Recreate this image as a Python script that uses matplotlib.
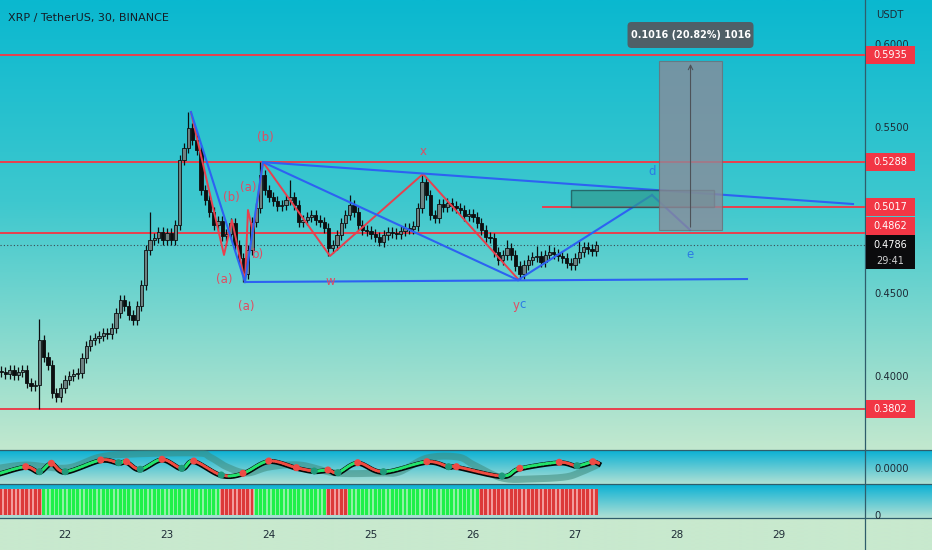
import numpy as np
import matplotlib
matplotlib.use("Agg")
import matplotlib.pyplot as plt
from matplotlib.patches import Rectangle, FancyBboxPatch
from matplotlib.collections import LineCollection

plt.rcParams['font.family'] = ['DejaVu Sans']

# ------------------------------------------------------------------ data
title = "XRP / TetherUS, 30, BINANCE"
currency = "USDT"
candle_start = 21.375          # day of month of first candle
candle_step = 1.0 / 24.0       # one candle per hour (drawn)
first_open = 0.4030
closes = [
    0.4024, 0.4012, 0.4036, 0.4006, 0.4024, 0.4036, 0.3958, 0.3940, 0.3946, 0.4217,
    0.4114, 0.4066, 0.3898, 0.3874, 0.3928, 0.3976, 0.4000, 0.4012, 0.4018, 0.4108,
    0.4181, 0.4217, 0.4229, 0.4241, 0.4259, 0.4253, 0.4289, 0.4380, 0.4458, 0.4422,
    0.4367, 0.4337, 0.4422, 0.4548, 0.4759, 0.4819, 0.4831, 0.4867, 0.4819, 0.4861,
    0.4819, 0.4910, 0.5301, 0.5373, 0.5494, 0.5422, 0.5361, 0.5120, 0.5060, 0.4988,
    0.4910, 0.4934, 0.4843, 0.4855, 0.4922, 0.4789, 0.4711, 0.4614, 0.4759, 0.4928,
    0.5012, 0.5211, 0.5120, 0.5078, 0.5054, 0.5024, 0.5030, 0.5060, 0.5078, 0.5030,
    0.4928, 0.4940, 0.4958, 0.4970, 0.4940, 0.4928, 0.4892, 0.4771, 0.4789, 0.4849,
    0.4922, 0.4970, 0.5030, 0.4988, 0.4910, 0.4880, 0.4874, 0.4855, 0.4837, 0.4807,
    0.4849, 0.4867, 0.4861, 0.4855, 0.4873, 0.4892, 0.4886, 0.4904, 0.5012, 0.5169,
    0.5090, 0.4970, 0.4952, 0.5036, 0.5018, 0.5042, 0.5024, 0.5012, 0.5000, 0.4964,
    0.4976, 0.4958, 0.4922, 0.4880, 0.4837, 0.4831, 0.4747, 0.4699, 0.4729, 0.4771,
    0.4729, 0.4663, 0.4614, 0.4669, 0.4699, 0.4717, 0.4723, 0.4687, 0.4729, 0.4747,
    0.4735, 0.4723, 0.4711, 0.4681, 0.4669, 0.4711, 0.4747, 0.4777, 0.4765, 0.4753,
    0.4786,
]
wick_highs = {9: 0.4343, 35: 0.4990, 44: 0.5590, 61: 0.5289, 68: 0.5181, 82: 0.5090,
              99: 0.5211, 119: 0.4819, 126: 0.4783, 129: 0.4789, 136: 0.4819}
wick_lows = {9: 0.3802, 13: 0.3843, 57: 0.4566, 77: 0.4723, 89: 0.4783, 122: 0.4578}
last_price = 0.4786
countdown = "29:41"

day_ticks = [22, 23, 24, 25, 26, 27, 28, 29]
price_ticks = [0.40, 0.45, 0.55, 0.60]

# horizontal levels (price, start day or None for full width)
level_prices = [0.5935, 0.5288, 0.5017, 0.4862, 0.3802]
level_starts = [None, None, 26.686, None, None]

# red zig-zag wave
red_wave_days = [23.235, 23.559, 23.637, 23.765, 23.794, 23.843, 23.941, 24.598, 25.510, 26.441]
red_wave_prices = [0.5590, 0.4729, 0.4940, 0.4566, 0.5000, 0.4867, 0.5288, 0.4723, 0.5217, 0.4584]

# blue trend / wave lines
blue_d0 = [23.235, 23.765, 23.941, 23.941, 23.765, 26.441, 27.755]
blue_p0 = [0.5590, 0.4566, 0.5288, 0.5288, 0.4566, 0.4578, 0.5090]
blue_d1 = [23.765, 23.941, 29.725, 26.441, 28.686, 27.755, 28.127]
blue_p1 = [0.4566, 0.5288, 0.5036, 0.4578, 0.4584, 0.5090, 0.4880]

# wave labels
wave_texts = ["(b)", "(a)", "(b)", "b)", "(a)", "(a)", "w", "x", "y", "c", "d", "e"]
wave_days = [23.961, 23.794, 23.627, 23.892, 23.559, 23.775, 24.598, 25.510, 26.425, 26.490, 27.755, 28.127]
wave_prices = [0.5434, 0.5133, 0.5078, 0.4729, 0.4584, 0.4416, 0.4572, 0.5355, 0.4422, 0.4430, 0.5229, 0.4729]
wave_is_blue = [False, False, False, False, False, False, False, False, False, True, True, True]

# target zone and price range measurement
zone_day0, zone_day1 = 26.961, 28.363
zone_low, zone_high = 0.5018, 0.5120
measure_day0, measure_day1 = 27.824, 28.441
measure_low, measure_high = 0.4880, 0.5896

# oscillator pane
osc_days = [21.363, 21.615, 21.750, 21.867, 22.002, 22.351, 22.525, 22.603, 22.738, 22.951,
            23.145, 23.262, 23.532, 23.745, 23.998, 24.269, 24.443, 24.578, 24.676, 24.870,
            25.122, 25.548, 25.761, 25.838, 26.284, 26.459, 26.846, 27.020, 27.175, 27.233]
osc_vals = [-0.0053, 0.0013, -0.0037, 0.0047, -0.0037, 0.0080, 0.0053, 0.0063, -0.0013, 0.0087,
            -0.0003, 0.0070, -0.0070, -0.0053, 0.0070, 0.0003, -0.0030, -0.0020, -0.0047, 0.0053,
            -0.0037, 0.0063, 0.0013, 0.0013, -0.0080, -0.0003, 0.0057, 0.0023, 0.0063, 0.0047]
osc_dots = ["", "r", "g", "r", "g", "r", "g", "r", "g", "r",
            "g", "r", "g", "r", "r", "r", "g", "r", "g", "r",
            "g", "r", "g", "r", "g", "r", "r", "g", "r", ""]
sig_days = [21.363, 21.627, 22.020, 22.343, 22.667, 23.294, 23.422, 23.588, 23.784, 24.000, 24.304,
            24.657, 25.088, 25.275, 25.549, 25.853, 26.010, 26.284, 26.559, 26.902, 27.059, 27.216]
sig_vals = [0.000, 0.003, 0.000, 0.011, 0.014, 0.015, 0.011, 0.001, -0.005, 0.001, 0.003,
            -0.005, -0.005, -0.004, 0.010, 0.011, 0.003, -0.010, -0.011, -0.009, -0.004, 0.003]

# trend histogram pane: days where trend flips (starts bearish)
trend_flip_days = [21.755, 23.539, 23.873, 24.559, 24.755, 26.078]
trend_start_bull = False

# ------------------------------------------------------------------ layout
W, H, DPI = 932, 550, 100
fig = plt.figure(figsize=(W / DPI, H / DPI), dpi=DPI)
PANE_R = 865
MAIN_B, OSC_B, HIST_B = 450, 484, 518

bg = fig.add_axes([0, 0, 1, 1], zorder=0)
bg.axis('off')


def vgrad(y0, y1, stops, x0=0, x1=W):
    n = 200
    t = np.linspace(0, 1, n)
    sp = np.array([s[0] for s in stops])
    cols = np.zeros((n, 1, 3))
    for c in range(3):
        cols[:, 0, c] = np.interp(t, sp, [s[1][c] / 255 for s in stops])
    bg.imshow(cols, extent=(x0, x1, y1, y0), aspect='auto', interpolation='bilinear', zorder=0)


vgrad(0, MAIN_B, [(0.0, (10, 184, 208)), (0.45, (62, 200, 206)), (1.0, (194, 232, 206))])
vgrad(MAIN_B, OSC_B, [(0.0, (8, 176, 212)), (1.0, (178, 225, 212))])
vgrad(OSC_B, HIST_B, [(0.0, (8, 176, 212)), (1.0, (178, 225, 212))])
vgrad(HIST_B, H, [(0.0, (200, 233, 206)), (1.0, (200, 233, 206))])
bg.set_xlim(0, W)
bg.set_ylim(H, 0)
sep = '#2f5d6b'
for yy in (MAIN_B, OSC_B, HIST_B):
    bg.plot([0, W], [yy, yy], color=sep, lw=0.9, zorder=2)
bg.plot([PANE_R, PANE_R], [0, H], color=sep, lw=0.9, zorder=2)

fw = PANE_R / W
ax = fig.add_axes([0, (H - MAIN_B) / H, fw, MAIN_B / H], zorder=1)
axo = fig.add_axes([0, (H - OSC_B) / H, fw, (OSC_B - MAIN_B) / H], zorder=1)
axh = fig.add_axes([0, (H - HIST_B) / H, fw, (HIST_B - OSC_B) / H], zorder=1)
for a in (ax, axo, axh):
    a.set_facecolor('none')
    for s in a.spines.values():
        s.set_visible(False)
    a.set_xlim(21.363, 29.843)

ax.set_ylim(0.3554, 0.6265)
axo.set_ylim(-0.016, 0.018)
axh.set_ylim(-0.1, 1.2)

tick_col = '#1e2b36'
for a in (ax, axo, axh):
    a.yaxis.tick_right()
    a.tick_params(axis='y', length=0, pad=6.5, labelsize=7.2, labelcolor=tick_col)
ax.set_yticks(price_ticks)
ax.set_yticklabels([f"{p:.4f}" for p in price_ticks])
axo.set_yticks([0])
axo.set_yticklabels(["0.0000"])
axh.set_yticks([0])
axh.set_yticklabels(["0"])
ax.set_xticks([])
axo.set_xticks([])
axh.set_xticks(day_ticks)
axh.set_xticklabels([str(d) for d in day_ticks])
axh.tick_params(axis='x', length=0, pad=9, labelsize=7.5, labelcolor=tick_col)

# ------------------------------------------------------------------ candles
n = len(closes)
times = candle_start + np.arange(n) * candle_step
opens = [first_open] + closes[:-1]
wick = 0.0030
bw = candle_step * 0.72
for i in range(n):
    o, c = opens[i], closes[i]
    hi = wick_highs.get(i, max(o, c) + wick)
    lo = wick_lows.get(i, min(o, c) - wick)
    ax.plot([times[i], times[i]], [lo, hi], color='#0c0f10', lw=0.9, zorder=3, solid_capstyle='butt')
    up = c >= o
    ax.add_patch(Rectangle((times[i] - bw / 2, min(o, c)), bw, max(abs(c - o), 0.0006),
                           fc='#6c8282' if up else '#0c0f10', ec='#0c0f10', lw=0.6, zorder=4))

red = '#e8404e'
blue = '#2d62f2'
# levels
for p, st in zip(level_prices, level_starts):
    x0 = st if st is not None else 21.363
    ax.plot([x0, 29.843], [p, p], color=red, lw=1.4, zorder=2)
ax.axhline(last_price, color='#3a4a52', lw=0.8, ls=(0, (1, 2)), zorder=2)

# waves
ax.plot(red_wave_days, red_wave_prices, color=red, lw=1.4, zorder=5)
for d0, p0, d1, p1 in zip(blue_d0, blue_p0, blue_d1, blue_p1):
    ax.plot([d0, d1], [p0, p1], color=blue, lw=1.5, zorder=5)

for t, d, p, b in zip(wave_texts, wave_days, wave_prices, wave_is_blue):
    ax.text(d, p, t, color='#2b7be4' if b else '#e14c62', fontsize=8.5,
            ha='center', va='center', zorder=7)

# zone and measure
ax.add_patch(Rectangle((zone_day0, zone_low), zone_day1 - zone_day0, zone_high - zone_low,
                       fc='#2f9a90', alpha=0.7, ec='#1d4a4c', lw=1.0, zorder=6))
ax.add_patch(Rectangle((measure_day0, measure_low), measure_day1 - measure_day0,
                       measure_high - measure_low, fc=(0.55, 0.54, 0.60), alpha=0.78,
                       ec='#6d6d75', lw=0.8, zorder=6))
mx = (measure_day0 + measure_day1) / 2
ax.annotate('', xy=(mx, measure_high), xytext=(mx, measure_low),
            arrowprops=dict(arrowstyle='->', color='#4d5258', lw=0.8, mutation_scale=8), zorder=7)

# ------------------------------------------------------------------ oscillator


def catmull(xs, ys, k=12):
    P = np.column_stack([xs, ys]).astype(float)
    P = np.vstack([P[0], P, P[-1]])
    out = []
    for i in range(1, len(P) - 2):
        p0, p1, p2, p3 = P[i - 1], P[i], P[i + 1], P[i + 2]
        t = np.linspace(0, 1, k, endpoint=False)[:, None]
        out.append(0.5 * (2 * p1 + (-p0 + p2) * t + (2 * p0 - 5 * p1 + 4 * p2 - p3) * t ** 2
                          + (-p0 + 3 * p1 - 3 * p2 + p3) * t ** 3))
    out.append(P[-2][None, :])
    return np.vstack(out)


sig = catmull(sig_days, sig_vals)
axo.plot(sig[:, 0], sig[:, 1], color='#3e8a7c', alpha=0.55, lw=5, zorder=2, solid_capstyle='round')
osc = catmull(osc_days, osc_vals)
axo.plot(osc[:, 0], osc[:, 1] - 0.0006, color='#050808', lw=3.6, zorder=3)
segs = np.stack([osc[:-1], osc[1:]], axis=1)
cols = ['#22e36c' if s[1, 1] >= s[0, 1] else '#ef4b40' for s in segs]
axo.add_collection(LineCollection(segs, colors=cols, linewidths=2.0, zorder=4, capstyle='round'))
for d, v, c in zip(osc_days, osc_vals, osc_dots):
    if c:
        axo.scatter([d], [v], s=26, color='#ee4a45' if c == 'r' else '#1f9a7c',
                    zorder=5, edgecolors='none')

# ------------------------------------------------------------------ trend histogram
bull = []
for t in times:
    flips = sum(1 for f in trend_flip_days if t >= f)
    bull.append(trend_start_bull ^ (flips % 2 == 1))
light = ['#8ff2a4' if b else '#f29c9c' for b in bull]
strong = ['#1ff04a' if b else '#dc3a3a' for b in bull]
axh.bar(times, np.ones(n), width=candle_step * 1.02, color=light, zorder=2, linewidth=0)
axh.bar(times, np.ones(n), width=candle_step * 0.6, color=strong, zorder=3, linewidth=0)

# ------------------------------------------------------------------ overlay labels
ov = fig.add_axes([0, 0, 1, 1], zorder=10)
ov.set_facecolor('none')
ov.axis('off')
ov.set_xlim(0, W)
ov.set_ylim(H, 0)


def ypx(v):
    return H - ax.transData.transform((22.0, v))[1]


label_shift = {0.4862: -7}
for p in level_prices:
    yc = ypx(p) + label_shift.get(p, 0)
    ov.add_patch(Rectangle((866, yc - 9), 49, 18, fc='#f23645', ec='none'))
    ov.text(890.5, yc, f"{p:.4f}", color='white', fontsize=7.0, ha='center', va='center')
yl = ypx(last_price)
ov.add_patch(Rectangle((866, yl - 10), 49, 34, fc='#0b0b0d', ec='none'))
ov.text(890.5, yl, f"{last_price:.4f}", color='white', fontsize=7.0, ha='center', va='center')
ov.text(890.5, yl + 16, countdown, color='#d0d0d0', fontsize=7.0, ha='center', va='center')

ov.text(876, 15, currency, color=tick_col, fontsize=7.2, ha='left', va='center')
ov.text(8, 18, title, color='#141d27', fontsize=8, ha='left', va='center')

diff = measure_high - measure_low
tip = f"{diff:.4f} ({diff / measure_low * 100:.2f}%) {round(diff * 10000)}"
mxp = ax.transData.transform((mx, 0.5))[0]
ov.add_patch(FancyBboxPatch((mxp - 63, 22), 126, 26, boxstyle='round,pad=0,rounding_size=4',
                            fc='#55585e', ec='none', alpha=0.92))
ov.text(mxp, 35, tip, color='white', fontsize=6.9, ha='center', va='center', fontweight='bold')

fig.savefig('out.png', dpi=DPI)
